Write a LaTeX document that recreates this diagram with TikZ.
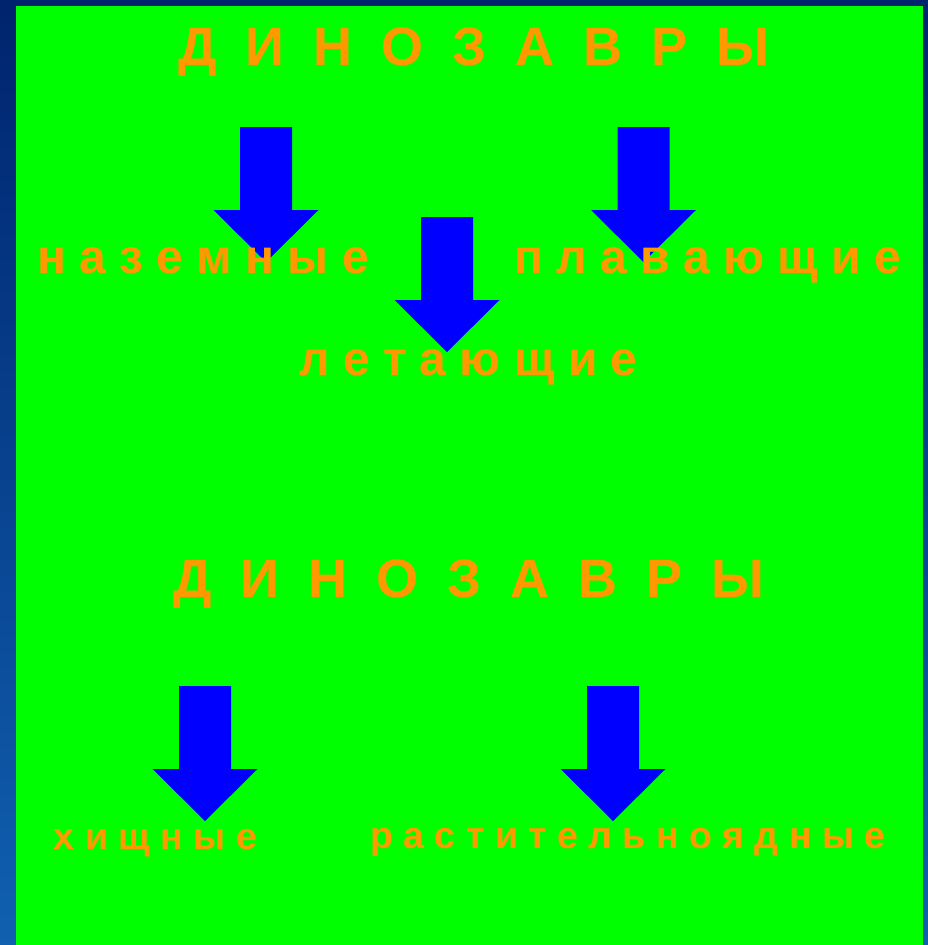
\documentclass[tikz,border=0pt]{standalone}
\usepackage{fontspec}
\setmainfont{Liberation Sans}
\definecolor{navytop}{RGB}{0,36,110}
\definecolor{navymid}{RGB}{0,42,128}
\definecolor{navybot}{RGB}{16,96,176}
\definecolor{slidegreen}{RGB}{0,255,0}
\definecolor{labelorange}{RGB}{255,153,0}
\definecolor{arrowblue}{RGB}{0,0,255}
\tikzset{
  titletext/.style={text=labelorange, inner sep=0pt, anchor=base,
    font=\fontsize{54bp}{60bp}\selectfont\bfseries,
    execute at begin node={\spaceskip=29bp\relax}},
  bigtext/.style={text=labelorange, inner sep=0pt, anchor=base,
    font=\fontsize{48bp}{56bp}\selectfont\bfseries},
  smalltext/.style={text=labelorange, inner sep=0pt, anchor=base,
    font=\fontsize{37.5bp}{44bp}\selectfont\bfseries},
  downarrow/.pic={
    \fill[arrowblue] (-26,0) -- (26,0) -- (26,83) -- (52.5,83) -- (0,135)
      -- (-52.5,83) -- (-26,83) -- cycle;
  }
}
\begin{document}
\begin{tikzpicture}[x=1bp,y=-1bp]
\useasboundingbox (0,0) rectangle (928,945);
\shade[top color=navytop, middle color=navymid, bottom color=navybot] (0,0) rectangle (928,945);
\fill[slidegreen] (16,6) rectangle (923,945);
% arrows
\coordinate (a1) at (266,127);
\coordinate (a2) at (643.5,127);
\coordinate (a3) at (447,217);
\coordinate (a4) at (205,686);
\coordinate (a5) at (613,686);
\foreach \c in {a1,a2,a3,a4,a5} \pic at (\c) {downarrow};
% texts
\node[titletext] (t1) at (474,65) {Д И Н О З А В Р Ы};
\node[bigtext] (l1) at (203,273) {н а з е м н ы е};
\node[bigtext] (l2) at (708,273) {п л а в а ю щ и е};
\node[bigtext] (l3) at (468.5,375) {л е т а ю щ и е};
\node[titletext] (t2) at (468.5,597) {Д И Н О З А В Р Ы};
\node[smalltext] (l4) at (155.5,849) {х и щ н ы е};
\node[smalltext] (l5) at (628,848) {р а с т и т е л ь н о я д н ы е};
\end{tikzpicture}
\end{document}
